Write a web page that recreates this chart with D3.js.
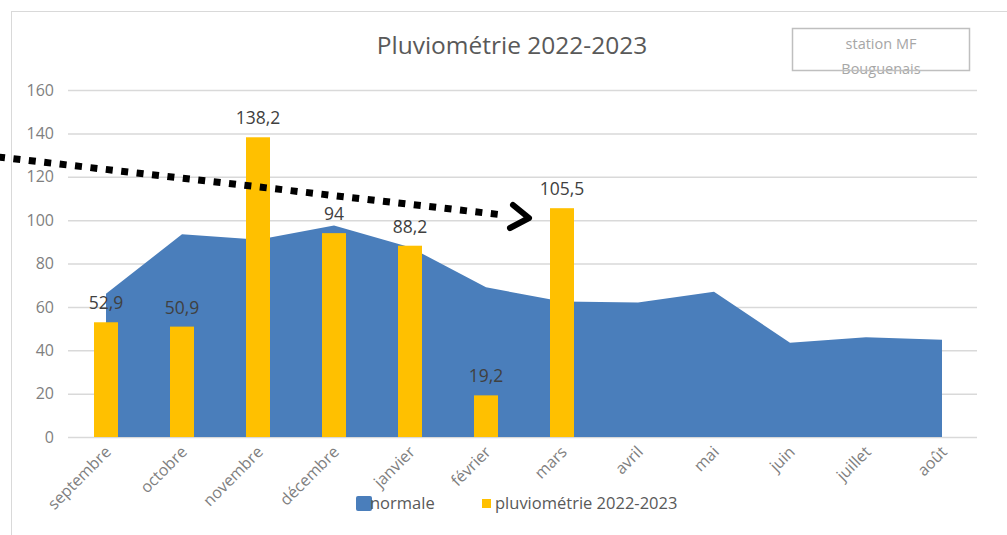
<!DOCTYPE html>
<html>
<head>
<meta charset="utf-8">
<script src="https://cdn.jsdelivr.net/npm/d3@7"></script>
<style>
  body { margin: 0; background: #fff; }
  svg text { font-family: "Open Sans", "Noto Sans", sans-serif; }
</style>
</head>
<body>
<div id="chart"></div>
<script>
var mois = ["septembre", "octobre", "novembre", "décembre", "janvier", "février",
  "mars", "avril", "mai", "juin", "juillet", "août"];
var normale = [66, 93.5, 91, 97.5, 87.5, 69, 62.5, 62, 67, 43.5, 46, 44.8];
var pluvio = [52.9, 50.9, 138.2, 94, 88.2, 19.2, 105.5];
var pluvioLabels = ["52,9", "50,9", "138,2", "94", "88,2", "19,2", "105,5"];
var yTicks = [0, 20, 40, 60, 80, 100, 120, 140, 160];

var width = 1007,
  height = 535;

var svg = d3.select("#chart")
  .append("svg")
  .attr("width", width)
  .attr("height", height);

// cadre du graphique
svg.append("rect")
  .attr("x", 11.5).attr("y", 11.5)
  .attr("width", 1100).attr("height", 600)
  .attr("fill", "none")
  .attr("stroke", "#d9d9d9");

var x = d3.scaleBand()
  .domain(mois)
  .range([68, 980]);

var y = d3.scaleLinear()
  .domain([0, 160])
  .range([437, 90]);

// grille
svg.append("g")
  .selectAll("line")
  .data(yTicks)
  .enter().append("line")
  .attr("x1", 68).attr("x2", 977)
  .attr("y1", function(d) { return y(d) + 0.5; })
  .attr("y2", function(d) { return y(d) + 0.5; })
  .attr("stroke", "#d9d9d9")
  .attr("stroke-width", 1.5);

var yAxis = svg.append("g")
  .attr("transform", "translate(56,0)")
  .call(d3.axisLeft(y).tickValues(yTicks).tickSize(0).tickPadding(2));
yAxis.select(".domain").remove();
yAxis.selectAll("text")
  .attr("fill", "#7f7f7f")
  .style("font-size", "16px");

// normale (aire)
var area = d3.area()
  .x(function(d, i) { return x(mois[i]) + x.bandwidth() / 2; })
  .y0(y(0))
  .y1(function(d) { return y(d); });

svg.append("path")
  .datum(normale)
  .attr("d", area)
  .attr("fill", "#4a7ebb");

// pluviométrie (barres)
var bw = 24;
svg.append("g")
  .selectAll("rect")
  .data(pluvio)
  .enter().append("rect")
  .attr("x", function(d, i) { return x(mois[i]) + x.bandwidth() / 2 - bw / 2; })
  .attr("y", function(d) { return y(d); })
  .attr("width", bw)
  .attr("height", function(d) { return y(0) - y(d); })
  .attr("fill", "#ffc000");

svg.append("g")
  .selectAll("text")
  .data(pluvio)
  .enter().append("text")
  .attr("x", function(d, i) { return x(mois[i]) + x.bandwidth() / 2; })
  .attr("y", function(d) { return y(d) - 13; })
  .attr("text-anchor", "middle")
  .attr("fill", "#404040")
  .style("font-size", "17.5px")
  .text(function(d, i) { return pluvioLabels[i]; });

// axe x
svg.append("g")
  .selectAll("text")
  .data(mois)
  .enter().append("text")
  .attr("transform", function(d) {
    return "translate(" + (x(d) + x.bandwidth() / 2 + 6) + ",453) rotate(-45)";
  })
  .attr("text-anchor", "end")
  .attr("fill", "#7f7f7f")
  .style("font-size", "16px")
  .text(function(d) { return d; });

// titre
svg.append("text")
  .attr("x", 512).attr("y", 54)
  .attr("text-anchor", "middle")
  .attr("fill", "#595959")
  .style("font-size", "24.5px")
  .text("Pluviométrie 2022-2023");

// encadré station
svg.append("text")
  .attr("x", 881).attr("y", 49)
  .attr("text-anchor", "middle")
  .attr("fill", "#a6a6a6")
  .style("font-size", "14.5px")
  .text("station MF");
svg.append("text")
  .attr("x", 881).attr("y", 74)
  .attr("text-anchor", "middle")
  .attr("fill", "#a6a6a6")
  .style("font-size", "14.5px")
  .text("Bouguenais");
svg.append("rect")
  .attr("x", 792.5).attr("y", 28.5)
  .attr("width", 177).attr("height", 42)
  .attr("fill", "none")
  .attr("stroke", "#bfbfbf")
  .attr("stroke-width", 1.5);

// légende
svg.append("rect")
  .attr("x", 356).attr("y", 496)
  .attr("width", 16).attr("height", 15)
  .attr("rx", 2)
  .attr("fill", "#4a7ebb");
svg.append("text")
  .attr("x", 370).attr("y", 509)
  .attr("fill", "#595959")
  .style("font-size", "16.5px")
  .text("normale");
svg.append("rect")
  .attr("x", 482).attr("y", 499)
  .attr("width", 9).attr("height", 9)
  .attr("fill", "#ffc000");
svg.append("text")
  .attr("x", 495).attr("y", 509)
  .attr("fill", "#595959")
  .style("font-size", "16.5px")
  .text("pluviométrie 2022-2023");

// flèche pointillée
svg.append("line")
  .attr("x1", -2).attr("y1", 157)
  .attr("x2", 503).attr("y2", 215)
  .attr("stroke", "#000")
  .attr("stroke-width", 7)
  .attr("stroke-dasharray", "7,8.5");
svg.append("polyline")
  .attr("points", "513,205 529,218 510,228")
  .attr("fill", "none")
  .attr("stroke", "#000")
  .attr("stroke-width", 6)
  .attr("stroke-linecap", "round")
  .attr("stroke-linejoin", "round");
</script>
</body>
</html>
